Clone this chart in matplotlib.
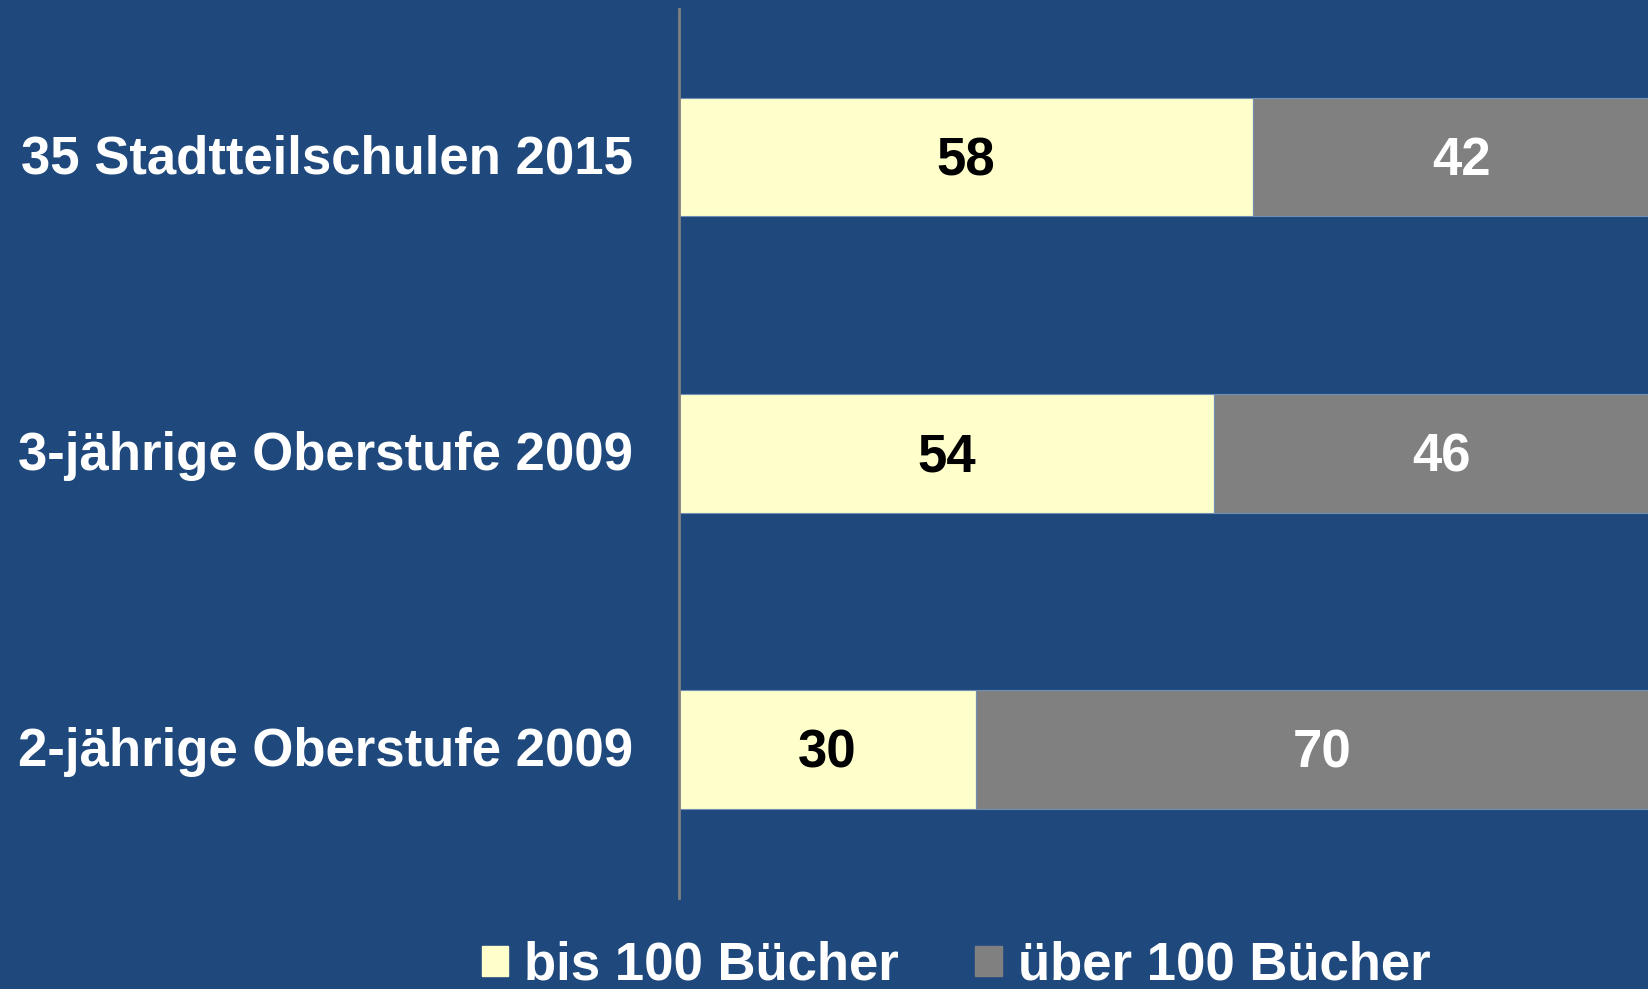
import matplotlib
matplotlib.use("Agg")
import matplotlib.pyplot as plt
from matplotlib.patches import Patch
from matplotlib.transforms import ScaledTranslation

categories = ["2-jährige Oberstufe 2009", "3-jährige Oberstufe 2009", "35 Stadtteilschulen 2015"]
bis_100 = [30, 54, 58]
ueber_100 = [70, 46, 42]
series_names = ["bis 100 Bücher", "über 100 Bücher"]

BG = "#1F497D"
YELLOW = "#FFFFCC"
GRAY = "#808080"
FS = 38

plt.rcParams['font.family'] = ['Liberation Sans', 'DejaVu Sans']

W, H = 1649, 989
fig = plt.figure(figsize=(W / 100, H / 100), dpi=100, facecolor=BG)
left = 679 / W
right = (679 + 990) / W
bottom = (H - 897.7) / H
top = (H - 9) / H
ax = fig.add_axes([left, bottom, right - left, top - bottom], facecolor=BG)

y = list(range(len(categories)))
ax.barh(y, bis_100, height=0.4, color=YELLOW, edgecolor="#6F8FB5", linewidth=0.8)
ax.barh(y, ueber_100, left=bis_100, height=0.4, color=GRAY, edgecolor="#6F8FB5", linewidth=0.8)

for i in y:
    ax.annotate(str(bis_100[i]), (bis_100[i] / 2, i), xytext=(0, -3), textcoords="offset points",
                ha="center", va="center", fontsize=FS, fontweight="bold", color="black")
    ax.annotate(str(ueber_100[i]), (bis_100[i] + ueber_100[i] / 2, i), xytext=(0, -3),
                textcoords="offset points", ha="center", va="center",
                fontsize=FS, fontweight="bold", color="white")

ax.set_xlim(0, 100)
ax.set_ylim(-0.5, 2.5)
ax.set_yticks(y)
ax.set_yticklabels(categories, fontsize=FS, fontweight="bold", color="white")
ax.tick_params(axis="y", length=0, pad=33)
for lab in ax.get_yticklabels():
    lab.set_transform(lab.get_transform() + ScaledTranslation(0, 2 / 72, fig.dpi_scale_trans))
ax.set_xticks([])
for s in ["top", "right", "bottom"]:
    ax.spines[s].set_visible(False)
ax.spines["left"].set_color("#808080")
ax.spines["left"].set_linewidth(2)

handles = [Patch(facecolor=YELLOW, edgecolor=YELLOW), Patch(facecolor=GRAY, edgecolor=GRAY)]
leg = fig.legend(handles, series_names, loc="center", bbox_to_anchor=(956 / W, 1 - 966 / H),
                 ncol=2, frameon=False, prop={"size": FS, "weight": "bold"},
                 handlelength=0.5, handleheight=0.5, handletextpad=0.3,
                 columnspacing=1.45, borderpad=0, borderaxespad=0)
for t in leg.get_texts():
    t.set_color("white")

fig.savefig("out.png", dpi=100, facecolor=BG)
